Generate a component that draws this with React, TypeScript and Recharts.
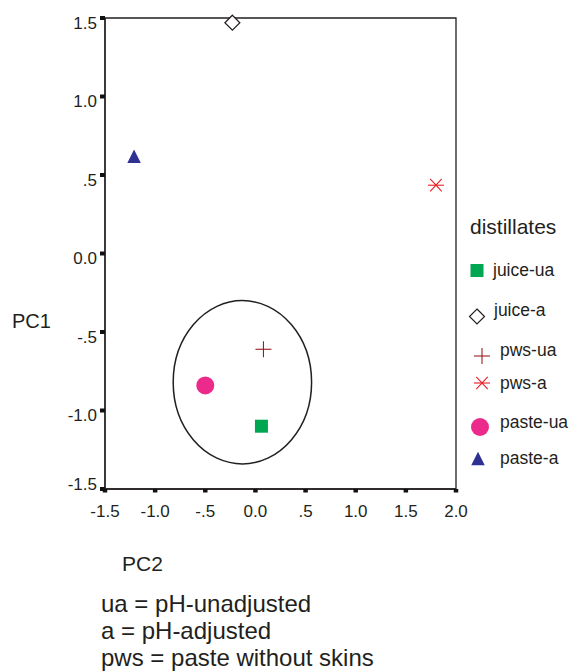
import React from "react";
import { ReferenceArea, Scatter, ScatterChart, XAxis, YAxis } from "recharts";

// PCA scores of the distillates
const seriesNames = ["juice-ua", "juice-a", "pws-ua", "pws-a", "paste-ua", "paste-a"];
const seriesColors = ["#00a651", "#231f20", "#9b1c20", "#ed1c24", "#ec2a8c", "#2e3192"];
const seriesShapes = ["square", "diamond", "plus", "asterisk", "circle", "triangle"];
const pc2Scores = [0.06, -0.23, 0.08, 1.8, -0.5, -1.21];
const pc1Scores = [-1.1, 1.47, -0.61, 0.435, -0.84, 0.62];

// cluster ellipse bounds (PC2, PC1)
const ellipsePc2 = [-0.82, 0.56];
const ellipsePc1 = [-1.34, -0.3];

const xTicks = [-1.5, -1, -0.5, 0, 0.5, 1, 1.5, 2];
const xTickLabels = ["-1.5", "-1.0", "-.5", "0.0", ".5", "1.0", "1.5", "2.0"];
const yTicks = [-1.5, -1, -0.5, 0, 0.5, 1, 1.5];
const yTickLabels = ["-1.5", "-1.0", "-.5", "0.0", ".5", "1.0", "1.5"];

const notes = ["ua = pH-unadjusted", "a = pH-adjusted", "pws = paste without skins"];

const FONT = "'Liberation Sans', Arial, Helvetica, sans-serif";
const INK = "#231f20";

// legend layout (px)
const legendMarkerX = [477, 477, 482, 482, 480, 478];
const legendMarkerY = [270.5, 316.5, 356, 383, 427, 458.5];
const legendLabelX = [493, 494, 500, 500, 500, 500];
const legendBaseline = [276, 315.5, 355.5, 388.5, 427.5, 464];

const markerSize: Record<string, number> = {
  square: 13,
  diamond: 15,
  plus: 16,
  asterisk: 16,
  circle: 18,
  triangle: 13.5
};

const Marker = ({ kind, cx, cy, color }: { kind: string; cx: number; cy: number; color: string }) => {
  const s = markerSize[kind];
  const h = s / 2;
  switch (kind) {
    case "square":
      return <rect x={cx - h} y={cy - h} width={s} height={s} fill={color} />;
    case "diamond":
      return (
        <polygon
          points={`${cx},${cy - h} ${cx + h},${cy} ${cx},${cy + h} ${cx - h},${cy}`}
          fill="#fff"
          stroke={color}
          strokeWidth={1.2}
        />
      );
    case "plus":
      return (
        <g stroke={color} strokeWidth={1.1}>
          <line x1={cx - h} y1={cy} x2={cx + h} y2={cy} />
          <line x1={cx} y1={cy - h} x2={cx} y2={cy + h} />
        </g>
      );
    case "asterisk": {
      const dx = h * 0.72;
      const dy = h * 0.78;
      return (
        <g stroke={color} strokeWidth={1.1}>
          <line x1={cx - h} y1={cy} x2={cx + h} y2={cy} />
          <line x1={cx - dx} y1={cy - dy} x2={cx + dx} y2={cy + dy} />
          <line x1={cx - dx} y1={cy + dy} x2={cx + dx} y2={cy - dy} />
        </g>
      );
    }
    case "circle":
      return <circle cx={cx} cy={cy} r={h} fill={color} />;
    default:
      return (
        <polygon
          points={`${cx},${cy - h} ${cx + h},${cy + h} ${cx - h},${cy + h}`}
          fill={color}
        />
      );
  }
};

const XTick = ({ x, y, index }: any) => (
  <text x={x} y={y} dy="0.71em" textAnchor="middle" fontSize={17} fontFamily={FONT} fill={INK}>
    {xTickLabels[index]}
  </text>
);

const YTick = ({ x, y, index }: any) => (
  <text
    x={x}
    y={y + (index === 0 ? -5 : 4.5)}
    dy="0.355em"
    textAnchor="end"
    fontSize={17}
    fontFamily={FONT}
    fill={INK}
  >
    {yTickLabels[index]}
  </text>
);

export default function App() {
  return (
    <div style={{ position: "absolute", left: 0, top: 0, width: 572, height: 671, background: "#fff" }}>
      <ScatterChart width={572} height={530} margin={{ top: 18, right: 116, bottom: 0, left: 0 }}>
        <XAxis
          type="number"
          dataKey="x"
          domain={[-1.5, 2]}
          ticks={xTicks}
          interval={0}
          height={41}
          tickSize={5}
          tickMargin={11}
          tick={XTick}
          axisLine={{ stroke: INK, strokeWidth: 1.3 }}
          tickLine={{ stroke: "#111", strokeWidth: 4.5, strokeDasharray: "0 1.6 3.4" }}
        />
        <YAxis
          type="number"
          dataKey="y"
          domain={[-1.5, 1.5]}
          ticks={yTicks}
          interval={0}
          width={105}
          tickSize={5}
          tickMargin={3}
          tick={YTick}
          axisLine={{ stroke: INK, strokeWidth: 1.3 }}
          tickLine={{ stroke: "#111", strokeWidth: 4 }}
        />
        <ReferenceArea
          x1={-1.5}
          x2={2}
          y1={-1.5}
          y2={1.5}
          fill="none"
          fillOpacity={0}
          stroke={INK}
          strokeWidth={1.3}
          ifOverflow="visible"
        />
        <ReferenceArea
          x1={ellipsePc2[0]}
          x2={ellipsePc2[1]}
          y1={ellipsePc1[0]}
          y2={ellipsePc1[1]}
          ifOverflow="visible"
          shape={(p: any) => (
            <ellipse
              cx={p.x + p.width / 2}
              cy={p.y + p.height / 2}
              rx={Math.abs(p.width) / 2}
              ry={Math.abs(p.height) / 2}
              fill="none"
              stroke={INK}
              strokeWidth={1.5}
            />
          )}
        />
        {seriesNames.map((name, i) => (
          <Scatter
            key={name}
            name={name}
            data={[{ x: pc2Scores[i], y: pc1Scores[i] }]}
            isAnimationActive={false}
            shape={(p: any) => (
              <Marker kind={seriesShapes[i]} cx={p.cx} cy={p.cy} color={seriesColors[i]} />
            )}
          />
        ))}
      </ScatterChart>
      <svg
        width={572}
        height={671}
        style={{ position: "absolute", left: 0, top: 0, pointerEvents: "none" }}
        fontFamily={FONT}
        fill={INK}
      >
        <text x={470} y={233.5} fontSize={21}>
          distillates
        </text>
        {seriesNames.map((name, i) => (
          <g key={name}>
            <Marker
              kind={seriesShapes[i]}
              cx={legendMarkerX[i]}
              cy={legendMarkerY[i]}
              color={seriesColors[i]}
            />
            <text x={legendLabelX[i]} y={legendBaseline[i]} fontSize={17.5} fill={INK}>
              {name}
            </text>
          </g>
        ))}
        <text x={12} y={328} fontSize={20}>
          PC1
        </text>
        <text x={122} y={570.5} fontSize={21}>
          PC2
        </text>
        {notes.map((line, i) => (
          <text key={line} x={101} y={612 + i * 27} fontSize={24}>
            {line}
          </text>
        ))}
      </svg>
    </div>
  );
}
